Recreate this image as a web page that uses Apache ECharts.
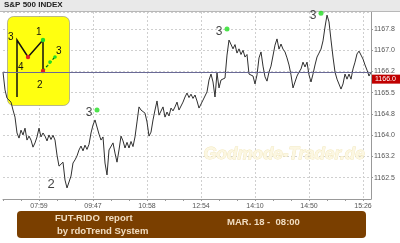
<!DOCTYPE html>
<html><head><meta charset="utf-8">
<script src="https://cdn.jsdelivr.net/npm/echarts@6/dist/echarts.min.js"></script>
<style>html,body{margin:0;padding:0;background:#fff}#c{width:400px;height:243px}</style>
</head><body><div id="c"></div>
<script>
// price series (one value per category step)
var prices = [1166.23,1165.60,1165.31,1165.24,1165.17,1164.89,1164.64,1164.08,1163.90,1164.18,
1164.01,1164.25,1163.83,1163.97,1163.83,1163.58,1163.73,1163.94,1164.25,1163.94,
1164.08,1163.97,1163.80,1164.01,1163.85,1164.00,1163.83,1163.30,1162.91,1162.98,
1163.05,1162.42,1162.14,1162.21,1162.56,1163.02,1163.13,1163.27,1163.48,1163.62,
1163.45,1163.65,1163.50,1163.68,1164.08,1164.36,1164.54,1164.29,1164.04,1163.83,
1163.94,1163.02,1162.60,1163.48,1163.51,1163.73,1163.37,1163.05,1163.48,1163.97,
1163.80,1163.55,1163.75,1163.55,1163.78,1163.60,1163.94,1164.47,1165.00,1164.89,
1164.96,1164.78,1164.47,1163.97,1164.11,1164.54,1164.89,1165.21,1164.71,1164.78,
1165.00,1164.64,1164.82,1164.68,1164.96,1164.86,1165.00,1165.17,1164.89,1164.82,
1165.17,1165.35,1165.49,1165.33,1165.45,1165.30,1165.42,1165.21,1164.96,1164.93,
1165.24,1165.24,1165.53,1165.95,1166.16,1165.88,1165.35,1166.20,1165.67,1165.95,
1165.88,1166.02,1166.83,1167.36,1167.43,1167.05,1167.20,1166.90,1167.05,1166.85,
1167.00,1166.76,1166.85,1166.16,1166.16,1166.09,1165.81,1166.13,1166.73,1166.94,
1166.44,1166.06,1165.91,1166.23,1166.44,1166.44,1167.18,1167.40,1167.04,1167.22,
1167.04,1166.94,1166.73,1166.48,1166.13,1165.67,1165.88,1166.09,1166.23,1166.34,
1166.58,1166.41,1166.58,1166.13,1165.88,1166.16,1166.48,1166.76,1166.90,1167.04,
1167.33,1167.82,1168.24,1168.00,1167.36,1166.76,1166.23,1165.98,1165.95,1165.63,
1165.81,1166.16,1165.98,1166.16,1165.98,1166.34,1166.58,1166.87,1166.97,1166.83,
1166.69,1166.48,1166.30,1166.09,1166.23];
var xTickIdx = [18,45,72,99,126,153,180];
var xTickLabels = ['07:59','09:47','10:58','12:54','14:10','14:50','15:26'];
var yTicks = [1162.5,1163.25,1164.0,1164.75,1165.5,1166.25,1167.0,1167.75];
var yTickLabels = ['1162.5','1163.2','1164.0','1164.8','1165.5','1166.2','1167.0','1167.8'];
var levelLine = 1166.23;
var lastPrice = 1165.98;
var lastPriceLabel = '1166.0';
// signal points: [category index, value]
var signal3 = [[46.5,1164.89],[111.5,1167.75],[159,1168.31]];
var label2 = [[24,1162.25]];

var categories = prices.map(function(_, i){
  var k = xTickIdx.indexOf(i); return k >= 0 ? xTickLabels[k] : '';
});
function isTick(i){ return xTickIdx.indexOf(i) >= 0; }

var chart = echarts.init(document.getElementById('c'), null, {renderer:'canvas'});
var axisFont = {fontFamily:'Liberation Sans, Arial, sans-serif', fontSize:7, color:'#555'};
chart.setOption({
  animation:false,
  backgroundColor:'#fff',
  grid:{left:3, right:29, top:12, bottom:44, containLabel:false},
  xAxis:{type:'category', data:categories, boundaryGap:false,
    axisLine:{lineStyle:{color:'#999', width:1}},
    axisTick:{show:true, interval:function(i){return i%9===0;}, length:2, lineStyle:{color:'#999'}},
    axisLabel:Object.assign({interval:function(i){return isTick(i);}, margin:4}, axisFont),
    splitLine:{show:true, interval:function(i){return isTick(i);}, lineStyle:{color:'#cfcfcf', type:[2,2], width:1}}
  },
  yAxis:{type:'value', position:'right', min:1161.75, max:1168.35, interval:0.75,
    axisLine:{show:true, lineStyle:{color:'#999'}},
    axisTick:{show:true, length:2, lineStyle:{color:'#999'}},
    axisLabel:Object.assign({showMinLabel:false, showMaxLabel:false, margin:3,
      formatter:function(v){ for (var k=0;k<yTicks.length;k++){ if (Math.abs(yTicks[k]-v)<1e-6) return yTickLabels[k]; } return ''; }}, axisFont),
    splitLine:{show:true, lineStyle:{color:'#cfcfcf', type:[2,2], width:1}}
  },
  series:[
    {type:'line', data:prices, showSymbol:false, symbol:'none', z:3,
     lineStyle:{color:'#303030', width:1},
     markLine:{silent:true, symbol:'none', animation:false, z:5,
       data:[
         {yAxis:levelLine, lineStyle:{color:'#6a6a96', width:1, type:'solid'}, label:{show:false}},
         {yAxis:lastPrice, lineStyle:{color:'rgba(0,0,0,0)', width:1}, label:{show:true, position:'end', formatter:lastPriceLabel,
           backgroundColor:'#c00000', color:'#fff', fontSize:7, fontFamily:'Liberation Sans, Arial, sans-serif',
           padding:[1,5,1,3], distance:1}}
       ]}
    },
    {type:'scatter', data:signal3, symbol:'circle', symbolSize:5, z:4,
     itemStyle:{color:'#22dd22'},
     label:{show:true, position:'left', formatter:'3', color:'#111', fontSize:12, distance:2,
       fontFamily:'Liberation Sans, Arial, sans-serif', offset:[0,3]}},
    {type:'scatter', data:label2, symbolSize:0, z:4,
     label:{show:true, position:'inside', formatter:'2', color:'#111', fontSize:13,
       fontFamily:'Liberation Sans, Arial, sans-serif'}}
  ],
  graphic:[
    {type:'rect', z:1, left:0, top:0, shape:{width:400, height:11}, style:{fill:'#e9e9e9'}},
    {type:'line', z:1, shape:{x1:0,y1:11.5,x2:400,y2:11.5}, style:{stroke:'#b8b8b8', lineWidth:1}},
    {type:'text', z:2, left:4, top:1, style:{text:'S&P 500 INDEX', fill:'#222', font:'bold 8px Liberation Sans, Arial, sans-serif'}},
    // watermark
    {type:'text', z:1, left:203, top:145, style:{text:'Godmode-Trader.de', fill:'#fcf7e2', stroke:'#f1e6b8', lineWidth:0.8,
      font:'italic bold 17px Liberation Sans, Arial, sans-serif'}},
    // yellow pattern box
    {type:'rect', z:1, shape:{x:7.5, y:16.5, width:62, height:89, r:6}, style:{fill:'#ffff10', stroke:'#888', lineWidth:0.6}},
    {type:'polyline', z:1, shape:{points:[[17,97],[17,40],[28,57],[43,40],[43,71]]}, style:{stroke:'#111', lineWidth:1.5, fill:null}},
    {type:'line', z:1, shape:{x1:43,y1:71,x2:55,y2:57}, style:{stroke:'#22cc22', lineWidth:1.5, lineDash:[3,2]}},
    {type:'line', z:1, shape:{x1:46,y1:67,x2:54,y2:58}, style:{stroke:'#111', lineWidth:0.8, lineDash:[2,3]}},
    {type:'circle', z:1, shape:{cx:28, cy:57, r:2.2}, style:{fill:'#e02020'}},
    {type:'circle', z:1, shape:{cx:43, cy:71, r:2.2}, style:{fill:'#e02020'}},
    {type:'circle', z:1, shape:{cx:43, cy:40, r:2.2}, style:{fill:'#22dd22'}},
    {type:'circle', z:1, shape:{cx:50, cy:62, r:1.8}, style:{fill:'#22dd22'}},
    {type:'circle', z:1, shape:{cx:55, cy:57, r:1.8}, style:{fill:'#22dd22'}},
    {type:'text', z:1, left:8, top:32, style:{text:'3', fill:'#111', font:'10px Liberation Sans, Arial, sans-serif'}},
    {type:'text', z:1, left:36, top:27, style:{text:'1', fill:'#111', font:'10px Liberation Sans, Arial, sans-serif'}},
    {type:'text', z:1, left:56, top:46, style:{text:'3', fill:'#111', font:'10px Liberation Sans, Arial, sans-serif'}},
    {type:'text', z:1, left:18, top:62, style:{text:'4', fill:'#111', font:'10px Liberation Sans, Arial, sans-serif'}},
    {type:'text', z:1, left:37, top:80, style:{text:'2', fill:'#111', font:'10px Liberation Sans, Arial, sans-serif'}},
    // bottom banner
    {type:'rect', z:1, shape:{x:17, y:211, width:349, height:27, r:4}, style:{fill:'#7a3f00'}},
    {type:'text', z:2, left:55, top:213, style:{text:'FUT-RIDO  report', fill:'#f0dcc0', font:'bold 9.5px Liberation Sans, Arial, sans-serif'}},
    {type:'text', z:2, left:57, top:226, style:{text:'by rdoTrend System', fill:'#f0dcc0', font:'bold 9.5px Liberation Sans, Arial, sans-serif'}},
    {type:'text', z:2, left:227, top:217, style:{text:'MAR. 18 -  08:00', fill:'#f0dcc0', font:'bold 9.5px Liberation Sans, Arial, sans-serif'}}
  ]
});
</script></body></html>
